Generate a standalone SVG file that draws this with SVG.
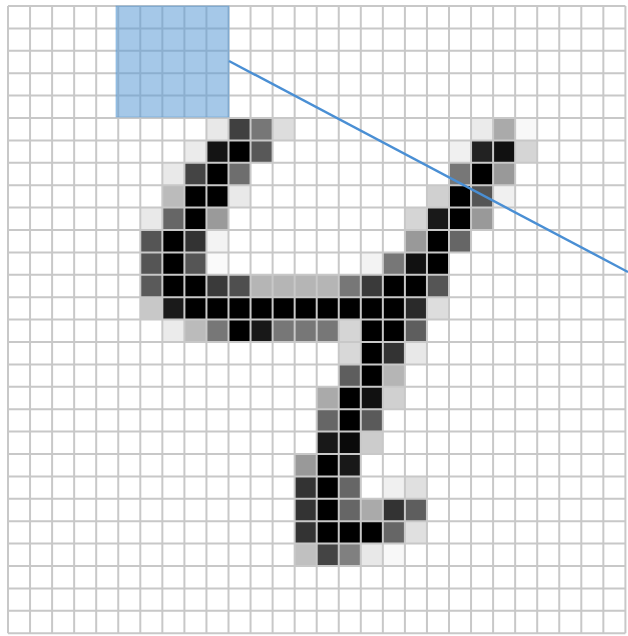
<svg xmlns="http://www.w3.org/2000/svg" width="628" height="636" viewBox="0 0 628 636">
<style>
.grid{fill:none;stroke:#c8c8c8;stroke-width:2;vector-effect:non-scaling-stroke}
.win{fill:#5b9bd5;fill-opacity:0.55;stroke:#5b9bd5;stroke-opacity:0.5;stroke-width:1}
.link{stroke:#4a8fd4;stroke-width:2.4;fill:none}
</style>
<rect width="628" height="636" fill="#ffffff"/>
<g id="pixels" transform="translate(8 6) scale(22.05 22.4)">
<rect x="9" y="5" width="1" height="1" fill="#e8e8e8"/><rect x="10" y="5" width="1" height="1" fill="#404040"/><rect x="11" y="5" width="1" height="1" fill="#777777"/><rect x="12" y="5" width="1" height="1" fill="#dddddd"/>
<rect x="21" y="5" width="1" height="1" fill="#ebebeb"/><rect x="22" y="5" width="1" height="1" fill="#aaaaaa"/><rect x="23" y="5" width="1" height="1" fill="#f8f8f8"/>
<rect x="8" y="6" width="1" height="1" fill="#ebebeb"/><rect x="9" y="6" width="1" height="1" fill="#141414"/><rect x="10" y="6" width="1" height="1" fill="#000000"/><rect x="11" y="6" width="1" height="1" fill="#585858"/>
<rect x="20" y="6" width="1" height="1" fill="#f0f0f0"/><rect x="21" y="6" width="1" height="1" fill="#222222"/><rect x="22" y="6" width="1" height="1" fill="#111111"/><rect x="23" y="6" width="1" height="1" fill="#d5d5d5"/>
<rect x="7" y="7" width="1" height="1" fill="#e9e9e9"/><rect x="8" y="7" width="1" height="1" fill="#444444"/><rect x="9" y="7" width="1" height="1" fill="#000000"/><rect x="10" y="7" width="1" height="1" fill="#6e6e6e"/>
<rect x="20" y="7" width="1" height="1" fill="#777777"/><rect x="21" y="7" width="1" height="1" fill="#000000"/><rect x="22" y="7" width="1" height="1" fill="#999999"/>
<rect x="7" y="8" width="1" height="1" fill="#bbbbbb"/><rect x="8" y="8" width="1" height="1" fill="#000000"/><rect x="9" y="8" width="1" height="1" fill="#000000"/><rect x="10" y="8" width="1" height="1" fill="#e9e9e9"/>
<rect x="19" y="8" width="1" height="1" fill="#d0d0d0"/><rect x="20" y="8" width="1" height="1" fill="#000000"/><rect x="21" y="8" width="1" height="1" fill="#555555"/><rect x="22" y="8" width="1" height="1" fill="#f0f0f0"/>
<rect x="6" y="9" width="1" height="1" fill="#e9e9e9"/><rect x="7" y="9" width="1" height="1" fill="#666666"/><rect x="8" y="9" width="1" height="1" fill="#000000"/><rect x="9" y="9" width="1" height="1" fill="#9a9a9a"/>
<rect x="18" y="9" width="1" height="1" fill="#d5d5d5"/><rect x="19" y="9" width="1" height="1" fill="#191919"/><rect x="20" y="9" width="1" height="1" fill="#000000"/><rect x="21" y="9" width="1" height="1" fill="#999999"/>
<rect x="6" y="10" width="1" height="1" fill="#555555"/><rect x="7" y="10" width="1" height="1" fill="#000000"/><rect x="8" y="10" width="1" height="1" fill="#333333"/><rect x="9" y="10" width="1" height="1" fill="#f3f3f3"/>
<rect x="18" y="10" width="1" height="1" fill="#999999"/><rect x="19" y="10" width="1" height="1" fill="#000000"/><rect x="20" y="10" width="1" height="1" fill="#666666"/>
<rect x="6" y="11" width="1" height="1" fill="#555555"/><rect x="7" y="11" width="1" height="1" fill="#000000"/><rect x="8" y="11" width="1" height="1" fill="#555555"/><rect x="9" y="11" width="1" height="1" fill="#fafafa"/>
<rect x="16" y="11" width="1" height="1" fill="#f3f3f3"/><rect x="17" y="11" width="1" height="1" fill="#777777"/><rect x="18" y="11" width="1" height="1" fill="#111111"/><rect x="19" y="11" width="1" height="1" fill="#000000"/>
<rect x="6" y="12" width="1" height="1" fill="#5a5a5a"/><rect x="7" y="12" width="2" height="1" fill="#000000"/><rect x="9" y="12" width="1" height="1" fill="#3a3a3a"/><rect x="10" y="12" width="1" height="1" fill="#4f4f4f"/><rect x="11" y="12" width="4" height="1" fill="#b5b5b5"/><rect x="15" y="12" width="1" height="1" fill="#777777"/><rect x="16" y="12" width="1" height="1" fill="#3a3a3a"/><rect x="17" y="12" width="2" height="1" fill="#000000"/><rect x="19" y="12" width="1" height="1" fill="#555555"/>
<rect x="6" y="13" width="1" height="1" fill="#c8c8c8"/><rect x="7" y="13" width="1" height="1" fill="#1a1a1a"/><rect x="8" y="13" width="10" height="1" fill="#000000"/><rect x="18" y="13" width="1" height="1" fill="#2a2a2a"/><rect x="19" y="13" width="1" height="1" fill="#dddddd"/>
<rect x="7" y="14" width="1" height="1" fill="#ebebeb"/><rect x="8" y="14" width="1" height="1" fill="#bbbbbb"/><rect x="9" y="14" width="1" height="1" fill="#777777"/><rect x="10" y="14" width="1" height="1" fill="#000000"/><rect x="11" y="14" width="1" height="1" fill="#181818"/><rect x="12" y="14" width="3" height="1" fill="#777777"/><rect x="15" y="14" width="1" height="1" fill="#d5d5d5"/><rect x="16" y="14" width="2" height="1" fill="#000000"/><rect x="18" y="14" width="1" height="1" fill="#5e5e5e"/>
<rect x="15" y="15" width="1" height="1" fill="#d8d8d8"/><rect x="16" y="15" width="1" height="1" fill="#000000"/><rect x="17" y="15" width="1" height="1" fill="#333333"/><rect x="18" y="15" width="1" height="1" fill="#e8e8e8"/>
<rect x="15" y="16" width="1" height="1" fill="#5e5e5e"/><rect x="16" y="16" width="1" height="1" fill="#000000"/><rect x="17" y="16" width="1" height="1" fill="#b5b5b5"/>
<rect x="14" y="17" width="1" height="1" fill="#aaaaaa"/><rect x="15" y="17" width="1" height="1" fill="#000000"/><rect x="16" y="17" width="1" height="1" fill="#111111"/><rect x="17" y="17" width="1" height="1" fill="#d0d0d0"/>
<rect x="14" y="18" width="1" height="1" fill="#666666"/><rect x="15" y="18" width="1" height="1" fill="#000000"/><rect x="16" y="18" width="1" height="1" fill="#5a5a5a"/>
<rect x="14" y="19" width="1" height="1" fill="#181818"/><rect x="15" y="19" width="1" height="1" fill="#0a0a0a"/><rect x="16" y="19" width="1" height="1" fill="#cccccc"/>
<rect x="13" y="20" width="1" height="1" fill="#999999"/><rect x="14" y="20" width="1" height="1" fill="#000000"/><rect x="15" y="20" width="1" height="1" fill="#181818"/>
<rect x="13" y="21" width="1" height="1" fill="#333333"/><rect x="14" y="21" width="1" height="1" fill="#000000"/><rect x="15" y="21" width="1" height="1" fill="#666666"/><rect x="17" y="21" width="1" height="1" fill="#f0f0f0"/><rect x="18" y="21" width="1" height="1" fill="#e0e0e0"/>
<rect x="13" y="22" width="1" height="1" fill="#333333"/><rect x="14" y="22" width="1" height="1" fill="#000000"/><rect x="15" y="22" width="1" height="1" fill="#666666"/><rect x="16" y="22" width="1" height="1" fill="#aaaaaa"/><rect x="17" y="22" width="1" height="1" fill="#333333"/><rect x="18" y="22" width="1" height="1" fill="#5e5e5e"/>
<rect x="13" y="23" width="1" height="1" fill="#333333"/><rect x="14" y="23" width="3" height="1" fill="#000000"/><rect x="17" y="23" width="1" height="1" fill="#666666"/><rect x="18" y="23" width="1" height="1" fill="#e0e0e0"/>
<rect x="13" y="24" width="1" height="1" fill="#c0c0c0"/><rect x="14" y="24" width="1" height="1" fill="#444444"/><rect x="15" y="24" width="1" height="1" fill="#808080"/><rect x="16" y="24" width="1" height="1" fill="#e8e8e8"/><rect x="17" y="24" width="1" height="1" fill="#f8f8f8"/>
<path class="grid" d="M0 0V28M1 0V28M2 0V28M3 0V28M4 0V28M5 0V28M6 0V28M7 0V28M8 0V28M9 0V28M10 0V28M11 0V28M12 0V28M13 0V28M14 0V28M15 0V28M16 0V28M17 0V28M18 0V28M19 0V28M20 0V28M21 0V28M22 0V28M23 0V28M24 0V28M25 0V28M26 0V28M27 0V28M28 0V28M0 0H28M0 1H28M0 2H28M0 3H28M0 4H28M0 5H28M0 6H28M0 7H28M0 8H28M0 9H28M0 10H28M0 11H28M0 12H28M0 13H28M0 14H28M0 15H28M0 16H28M0 17H28M0 18H28M0 19H28M0 20H28M0 21H28M0 22H28M0 23H28M0 24H28M0 25H28M0 26H28M0 27H28M0 28H28"/>
</g>
<g id="window">
<rect class="win" x="116" y="6" width="113" height="111"/>
</g>
<g id="connectors">
<line class="link" x1="229" y1="61" x2="628" y2="272"/>
</g>
</svg>
